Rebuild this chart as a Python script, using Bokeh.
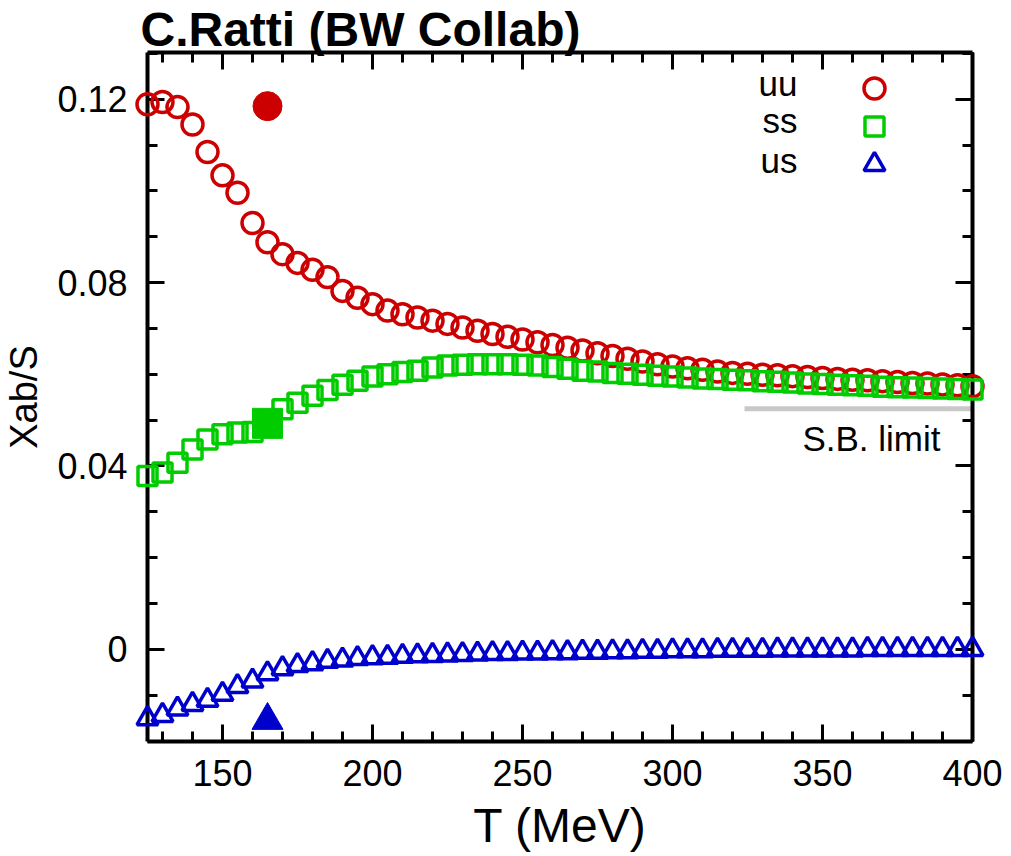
from bokeh.plotting import figure
from bokeh.models import LinearAxis, FixedTicker, Range1d, CustomJSTickFormatter
from bokeh.embed import file_html
from bokeh.resources import INLINE
from bokeh.core.properties import value

# Temperature grid (MeV)
T = list(range(125, 401, 5))

# Diagonal and off-diagonal quark number susceptibilities, chi_ab / s
chi_uu = [0.1189, 0.1194, 0.1183, 0.1145, 0.1085, 0.1034, 0.0996, 0.0930,
          0.0888, 0.0862, 0.0843, 0.0828, 0.0812, 0.0782, 0.0767, 0.0753,
          0.0739, 0.0731, 0.0724, 0.0717, 0.0710, 0.0702, 0.0695, 0.0688,
          0.0682, 0.0676, 0.0670, 0.0664, 0.0658, 0.0652, 0.0646, 0.0640,
          0.0634, 0.0628, 0.0622, 0.0617, 0.0613, 0.0610, 0.0606, 0.0603,
          0.0601, 0.0599, 0.0598, 0.0596, 0.0594, 0.0592, 0.0590, 0.0588,
          0.0587, 0.0585, 0.0583, 0.0581, 0.0580, 0.0578, 0.0576, 0.0574]
chi_ss = [0.0378, 0.0386, 0.0407, 0.0436, 0.0458, 0.0469, 0.0473, 0.0474,
          0.0498, 0.0524, 0.0538, 0.0553, 0.0566, 0.0577, 0.0586, 0.0595,
          0.0600, 0.0605, 0.0608, 0.0615, 0.0619, 0.0621, 0.0622, 0.0622,
          0.0622, 0.0621, 0.0619, 0.0616, 0.0612, 0.0608, 0.0606, 0.0603,
          0.0601, 0.0599, 0.0597, 0.0595, 0.0593, 0.0591, 0.0590, 0.0588,
          0.0587, 0.0585, 0.0584, 0.0582, 0.0580, 0.0579, 0.0577, 0.0576,
          0.0575, 0.0573, 0.0572, 0.0571, 0.0570, 0.0569, 0.0568, 0.0567]
chi_us = [-0.0151, -0.0144, -0.0130, -0.0120, -0.0111, -0.0098, -0.0081, -0.0069,
          -0.0053, -0.0042, -0.0035, -0.0031, -0.0026, -0.0023, -0.0020, -0.0018,
          -0.0017, -0.0015, -0.0014, -0.0013, -0.0012, -0.0011, -0.0010, -0.0009,
          -0.0009, -0.0008, -0.0008, -0.0007, -0.0007, -0.0006, -0.0006, -0.0005,
          -0.0005, -0.0004, -0.0004, -0.0003, -0.0003, -0.0003, -0.0002, -0.0002,
          -0.0002, -0.0002, -0.0001, -0.0001, -0.0001, -0.0001, -0.0001, -0.0001,
          0.0000, 0.0000, 0.0000, 0.0000, 0.0000, 0.0000, 0.0000, 0.0000]

# Values at the transition temperature (filled symbols)
T_c = [165]
chi_uu_c = [0.1185]
chi_ss_c = [0.0493]
chi_us_c = [-0.0155]

# Stefan-Boltzmann limit segment
sb_T = [324, 400]
sb_chi = [0.0525, 0.0525]

series_names = ["uu", "ss", "us"]
title_text = "C.Ratti (BW Collab)"
x_major = [150, 200, 250, 300, 350, 400]
x_minor = list(range(130, 401, 10))
y_major = [0.0, 0.04, 0.08, 0.12]
y_minor = [round(-0.02 + 0.01 * i, 2) for i in range(16)]

RED, GREEN, BLUE = "#CC0000", "#00CC00", "#0000CC"
FONT = "Liberation Sans"

X0, X1 = 125, 400
Y0, Y1 = -0.0201, 0.1302
W, H = 1011, 856
BL, BR, BT, BB = 147, 39, 52, 115

p = figure(width=W, height=H, output_backend="svg", toolbar_location=None,
           x_range=Range1d(X0, X1), y_range=Range1d(Y0, Y1),
           min_border_left=BL, min_border_right=BR,
           min_border_top=BT, min_border_bottom=BB,
           background_fill_color="white", border_fill_color="white",
           outline_line_color=None)
p.xgrid.visible = False
p.ygrid.visible = False

xt = FixedTicker(ticks=x_major, minor_ticks=x_minor)
yt = FixedTicker(ticks=y_major, minor_ticks=y_minor)
blank = CustomJSTickFormatter(code="return ''")


def frame_style(ax):
    ax.axis_line_width = 4
    ax.axis_line_color = "black"
    ax.major_tick_in = 17
    ax.major_tick_out = 0
    ax.minor_tick_in = 10
    ax.minor_tick_out = 0
    ax.major_tick_line_width = 3
    ax.minor_tick_line_width = 3
    ax.major_label_text_font = FONT
    ax.major_label_text_font_size = "36px"
    ax.major_label_text_color = "black"
    ax.axis_label_text_font = FONT
    ax.axis_label_text_font_style = "normal"
    ax.axis_label_text_color = "black"


xa = p.xaxis[0]
xa.ticker = xt
frame_style(xa)
xa.major_label_standoff = 18
xa.axis_label = "T (MeV)"
xa.axis_label_text_font_size = "48px"
xa.axis_label_standoff = 10

ya = p.yaxis[0]
ya.ticker = yt
frame_style(ya)
ya.formatter = CustomJSTickFormatter(code="return tick == 0 ? '0' : tick.toFixed(2)")
ya.major_label_standoff = 20
ya.axis_label = "Xab/S"
ya.axis_label_text_font_size = "38px"
ya.axis_label_standoff = 9

top_ax = LinearAxis(ticker=xt, formatter=blank)
right_ax = LinearAxis(ticker=yt, formatter=blank)
for ax in (top_ax, right_ax):
    frame_style(ax)
    ax.major_label_text_font_size = "1px"
    ax.major_label_standoff = 0
p.add_layout(top_ax, "above")
p.add_layout(right_ax, "right")

# pixel helpers for placing annotation text relative to the frame
fw = W - BL - BR
fh = H - BT - BB
TEXT_SHIFT = 12  # baseline correction for text glyphs


def to_x(px):
    return X0 + (px - BL) / fw * (X1 - X0)


def to_y(py):
    return Y1 - (py - BT) / fh * (Y1 - Y0)


# Title, written just above the frame
p.text(x=[to_x(140)], y=[to_y(41 - TEXT_SHIFT)], text=[title_text],
       text_align="left", text_baseline="alphabetic", text_font=value(FONT),
       text_font_size="48px", text_font_style="bold", text_color="black",
       level="overlay")

# Stefan-Boltzmann reference line and its label
p.line(sb_T, sb_chi, line_color="#C8C8C8", line_width=5)
p.text(x=[to_x(940)], y=[to_y(450 - TEXT_SHIFT)], text=["S.B. limit"],
       text_align="right", text_baseline="alphabetic", text_font=value(FONT),
       text_font_size="35px", text_color="black")

# Lattice data: open symbols
p.scatter(T, chi_uu, marker="circle", size=21, fill_color=None,
          line_color=RED, line_width=3.5, level="overlay")
p.scatter(T, chi_ss, marker="square", size=19, fill_color=None,
          line_color=GREEN, line_width=3.5, level="overlay")
p.scatter(T, chi_us, marker="triangle", size=21, fill_color=None,
          line_color=BLUE, line_width=3.5, level="overlay")

# Filled symbols at T_c
p.scatter(T_c, chi_uu_c, marker="circle", size=29, fill_color=RED,
          line_color=RED, level="overlay")
p.scatter(T_c, chi_ss_c, marker="square", size=30, fill_color=GREEN,
          line_color=GREEN, level="overlay")
p.scatter(T_c, chi_us_c, marker="triangle", size=31, fill_color=BLUE,
          line_color=BLUE, level="overlay")

# Legend block in the upper right: label on the left, symbol on the right
key_x = to_x(874)
key_y = [to_y(88), to_y(126), to_y(164)]
text_y = [to_y(95 - TEXT_SHIFT), to_y(132 - TEXT_SHIFT), to_y(172 - TEXT_SHIFT)]
p.text(x=[to_x(797)] * 3, y=text_y, text=series_names, text_align="right",
       text_baseline="alphabetic", text_font=value(FONT),
       text_font_size="35px", text_color="black")
p.scatter([key_x], [key_y[0]], marker="circle", size=21, fill_color=None,
          line_color=RED, line_width=3.5)
p.scatter([key_x], [key_y[1]], marker="square", size=19, fill_color=None,
          line_color=GREEN, line_width=3.5)
p.scatter([key_x], [key_y[2]], marker="triangle", size=21, fill_color=None,
          line_color=BLUE, line_width=3.5)

open("out.html", "w").write(file_html(p, INLINE))
